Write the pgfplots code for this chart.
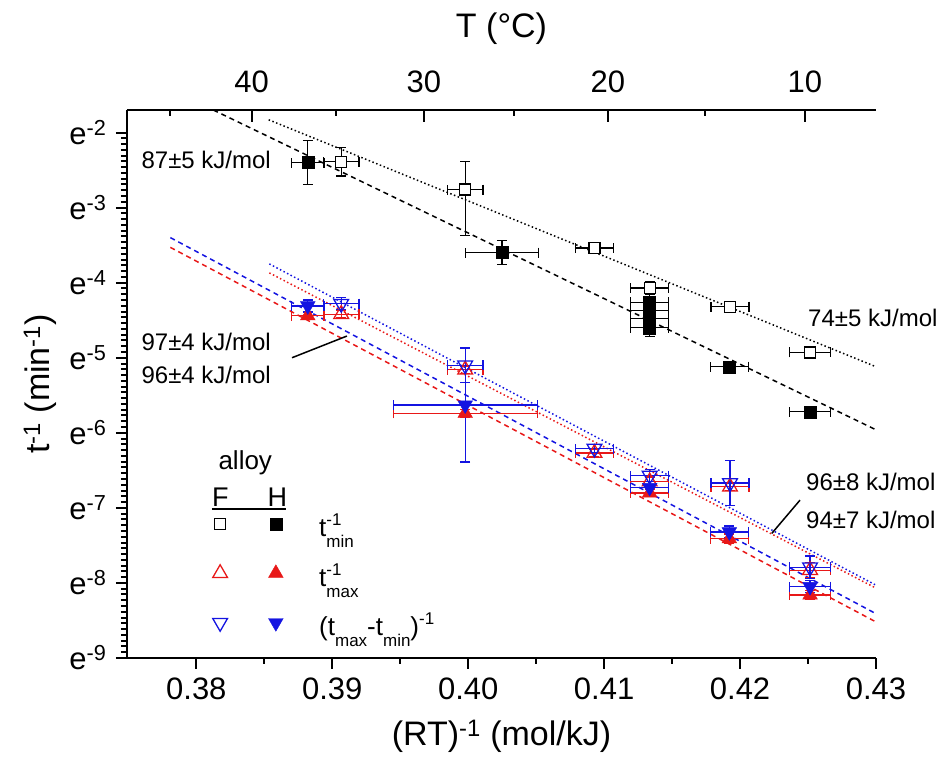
\documentclass[border=0pt]{standalone}
\usepackage{fontspec}
\setmainfont{Liberation Sans}
\usepackage{pgfplots}
\usepackage{pgfplotstable}
\pgfplotsset{compat=1.18}
\definecolor{myred}{RGB}{232,24,24}
\definecolor{myblue}{RGB}{20,20,225}
\newcommand\ssz{\fontsize{17}{17}\selectfont}

% H alloy, t_min^-1
\pgfplotstableread{
x y ex eyp eym
0.3882 -2.40 0.0012 0.29 0.29
0.40248 -3.60 0.0027 0.16 0.16
0.41335 -4.26 0.0014 0.10 0.10
0.41335 -4.37 0.0014 0.10 0.10
0.41335 -4.48 0.0014 0.10 0.10
0.41335 -4.60 0.0014 0.12 0.12
0.41921 -5.12 0.0014 0.05 0.05
0.42515 -5.72 0.0015 0.05 0.05
}\Hmin
% F alloy, t_min^-1
\pgfplotstableread{
x y ex eyp eym
0.39066 -2.39 0.0013 0.19 0.19
0.39978 -2.76 0.0013 0.37 0.61
0.40929 -3.54 0.0014 0.07 0.07
0.41335 -4.07 0.0014 0.08 0.08
0.41926 -4.32 0.0014 0.03 0.03
0.42515 -4.93 0.0015 0.03 0.03
}\Fmin
% H alloy, t_max^-1
\pgfplotstableread{
x y ex eyp eym
0.3882 -4.44 0.0012 0.05 0.05
0.39978 -5.74 0.0053 0.05 0.05
0.41335 -6.80 0.0014 0.05 0.05
0.41921 -7.41 0.0014 0.06 0.06
0.42515 -8.16 0.0015 0.06 0.06
}\Hmax
% H alloy, (t_max - t_min)^-1
\pgfplotstableread{
x y ex eyp eym
0.3882 -4.31 0.0012 0.08 0.08
0.39978 -5.63 0.0053 0.76 0.76
0.41335 -6.73 0.0014 0.08 0.08
0.41921 -7.32 0.0014 0.08 0.08
0.42515 -8.05 0.0015 0.08 0.08
}\Hdiff
% F alloy, t_max^-1
\pgfplotstableread{
x y ex eyp eym
0.39066 -4.42 0.0013 0.05 0.05
0.39978 -5.16 0.0013 0.05 0.05
0.40929 -6.27 0.0014 0.05 0.05
0.41335 -6.65 0.0014 0.06 0.06
0.41926 -6.72 0.0014 0.05 0.05
0.42515 -7.83 0.0015 0.10 0.10
}\Fmax
% F alloy, (t_max - t_min)^-1
\pgfplotstableread{
x y ex eyp eym
0.39066 -4.28 0.0013 0.08 0.08
0.39978 -5.10 0.0013 0.23 0.23
0.40929 -6.21 0.0014 0.05 0.05
0.41335 -6.57 0.0014 0.08 0.08
0.41926 -6.67 0.0014 0.30 0.30
0.42515 -7.79 0.0015 0.15 0.15
}\Fdiff

\begin{document}
\begin{tikzpicture}
\pgfplotsset{
  common/.style={scale only axis, width=749pt, height=548pt,
    xmin=0.3749, xmax=0.43, ymin=-9, ymax=-1.70,
    at={(0pt,0pt)}, anchor=south west,
    axis line style={-, line width=2pt},
    tick style={line width=2pt, black},
    tick label style={font=\fontsize{31}{31}\selectfont},
  },
  errs/.style={/pgfplots/error bars/x dir=both, /pgfplots/error bars/x explicit,
    /pgfplots/error bars/y dir=both, /pgfplots/error bars/y explicit,
    /pgfplots/error bars/error mark=-,
    /pgfplots/error bars/error bar style={line width=1.3pt, solid},
    /pgfplots/error bars/error mark options={rotate=90, line width=1.3pt, mark size=5pt, solid}},
  dotline/.style={line width=1.5pt, dash pattern=on 1.5pt off 2.5pt},
  dashline/.style={line width=1.5pt, dash pattern=on 5pt off 4pt},
}
% top temperature axis
\begin{axis}[common,
  axis x line*=top, axis y line=none, ytick=\empty,
  xtick={0.384070,0.396740,0.410273,0.424764},
  xticklabels={40,30,20,10},
  minor xtick={0.378034,0.390302,0.403393,0.417393},
  tick align=inside, major tick length=12pt, minor tick length=6pt,
  xticklabel style={yshift=14pt},
  xlabel={T (°C)},
  xlabel style={font=\fontsize{34}{34}\selectfont, at={(axis description cs:0.5,1)}, anchor=center, yshift=81pt},
]
\end{axis}
% main axis
\begin{axis}[common, clip=false,
  axis x line*=bottom, axis y line*=left,
  xtick={0.38,0.39,0.40,0.41,0.42,0.43},
  xticklabels={0.38,0.39,0.40,0.41,0.42,0.43},
  minor xtick={0.385,0.395,0.405,0.415,0.425},
  xticklabel style={yshift=-5pt},
  ytick={-9,-8,-7,-6,-5,-4,-3,-2},
  yticklabels={e\textsuperscript{-9},e\textsuperscript{-8},e\textsuperscript{-7},e\textsuperscript{-6},e\textsuperscript{-5},e\textsuperscript{-4},e\textsuperscript{-3},e\textsuperscript{-2}},
  yticklabel style={xshift=-6pt},
  minor y tick num=12,
  tick align=outside, major tick length=11pt, minor tick length=6pt,
  xlabel={(RT)\textsuperscript{-1} (mol/kJ)},
  xlabel style={font=\fontsize{34}{34}\selectfont, at={(axis description cs:0.5,0)}, anchor=center, yshift=-78pt},
  ylabel={t\textsuperscript{-1} (min\textsuperscript{-1})},
  ylabel style={font=\fontsize{34}{34}\selectfont, at={(axis description cs:-0.1162,0.5)}, anchor=center},
  legend columns=2,
  legend cell align=left,
  legend image post style={yshift=9pt},
  legend style={draw=none, fill=none, inner sep=0pt, outer sep=0pt,
    at={(axis cs:0.38121,-7.991)}, anchor=west,
    /tikz/every even column/.append style={column sep=40pt},
    nodes={inner sep=0pt, font=\fontsize{26}{26}\selectfont, text height=24pt, text depth=16pt},
    row sep=9.5pt},
]
% fit lines
\addplot[black, dashline, forget plot] coordinates {(0.38125,-1.70) (0.43,-5.96)};
\addplot[black, dotline, forget plot] coordinates {(0.38532,-1.83) (0.43,-5.12)};
\addplot[myblue, dashline, forget plot] coordinates {(0.37809,-3.40) (0.43,-8.41)};
\addplot[myred, dashline, forget plot] coordinates {(0.37809,-3.53) (0.43,-8.52)};
\addplot[myblue, dotline, forget plot] coordinates {(0.38537,-3.75) (0.43,-8.03)};
\addplot[myred, dotline, forget plot] coordinates {(0.38537,-3.87) (0.43,-8.07)};
% data
\addplot[black, only marks, mark=square*, mark size=6pt, forget plot, errs]
  table[x=x, y=y, x error=ex, y error plus=eyp, y error minus=eym]{\Hmin};
\addplot[black, only marks, mark=square*, mark size=5.5pt, mark options={fill=white, line width=1.3pt}, forget plot, errs]
  table[x=x, y=y, x error=ex, y error plus=eyp, y error minus=eym]{\Fmin};
\addplot[myred, only marks, mark=triangle, mark size=8.5pt, mark options={line width=1.3pt}, forget plot, errs]
  table[x=x, y=y, x error=ex, y error plus=eyp, y error minus=eym]{\Fmax};
\addplot[myblue, only marks, mark=triangle, mark size=8.5pt, mark options={line width=1.3pt, rotate=180}, forget plot, errs]
  table[x=x, y=y, x error=ex, y error plus=eyp, y error minus=eym]{\Fdiff};
\addplot[myred, only marks, mark=triangle*, mark size=8.5pt, forget plot, errs]
  table[x=x, y=y, x error=ex, y error plus=eyp, y error minus=eym]{\Hmax};
\addplot[myblue, only marks, mark=triangle*, mark size=8.5pt, mark options={rotate=180}, forget plot, errs]
  table[x=x, y=y, x error=ex, y error plus=eyp, y error minus=eym]{\Hdiff};
% legend
\addlegendimage{only marks, black, mark=square*, mark size=5.5pt, mark options={fill=white, line width=1.3pt}}
\addlegendentry{\mbox{}}
\addlegendimage{only marks, black, mark=square*, mark size=6pt}
\addlegendentry{\hspace*{36pt}t\rlap{\raisebox{11pt}{\ssz -1}}\raisebox{-11pt}{\ssz min}}
\addlegendimage{only marks, myred, mark=triangle, mark size=8.5pt, mark options={line width=1.3pt}}
\addlegendentry{\mbox{}}
\addlegendimage{only marks, myred, mark=triangle*, mark size=8.5pt}
\addlegendentry{\hspace*{36pt}t\rlap{\raisebox{11pt}{\ssz -1}}\raisebox{-11pt}{\ssz max}}
\addlegendimage{only marks, myblue, mark=triangle, mark size=8.5pt, mark options={line width=1.3pt, rotate=180}}
\addlegendentry{\mbox{}}
\addlegendimage{only marks, myblue, mark=triangle*, mark size=8.5pt, mark options={rotate=180}}
\addlegendentry{\hspace*{36pt}(t\raisebox{-11pt}{\ssz max}-t\raisebox{-11pt}{\ssz min})\raisebox{11pt}{\ssz -1}}
% legend header
\node[font=\fontsize{26}{26}\selectfont] at (axis cs:0.38360,-6.404) {alloy};
\node[font=\fontsize{27}{27}\selectfont] at (axis cs:0.38176,-6.857) {F};
\node[font=\fontsize{27}{27}\selectfont] at (axis cs:0.38596,-6.857) {H};
\draw[line width=2pt] (axis cs:0.38115,-7.021) -- (axis cs:0.38660,-7.021);
% annotations
\node[anchor=west, font=\fontsize{24}{24}\selectfont, inner sep=0pt] at (axis cs:0.37596,-2.364) {87±5 kJ/mol};
\node[anchor=west, font=\fontsize{24}{24}\selectfont, inner sep=0pt] at (axis cs:0.42500,-4.471) {74±5 kJ/mol};
\node[anchor=west, font=\fontsize{24}{24}\selectfont, inner sep=0pt] at (axis cs:0.37596,-4.787) {97±4 kJ/mol};
\node[anchor=west, font=\fontsize{24}{24}\selectfont, inner sep=0pt] at (axis cs:0.37596,-5.231) {96±4 kJ/mol};
\node[anchor=west, font=\fontsize{24}{24}\selectfont, inner sep=0pt] at (axis cs:0.42485,-6.653) {96±8 kJ/mol};
\node[anchor=west, font=\fontsize{24}{24}\selectfont, inner sep=0pt] at (axis cs:0.42485,-7.164) {94±7 kJ/mol};
\draw[line width=1.5pt] (axis cs:0.38704,-5.0) -- (axis cs:0.39108,-4.711);
\draw[line width=1.5pt] (axis cs:0.42441,-6.897) -- (axis cs:0.42233,-7.341);
\end{axis}
\pgfresetboundingbox
\path[use as bounding box] (-127pt,-105pt) rectangle (819pt,658pt);
\end{tikzpicture}
\end{document}
